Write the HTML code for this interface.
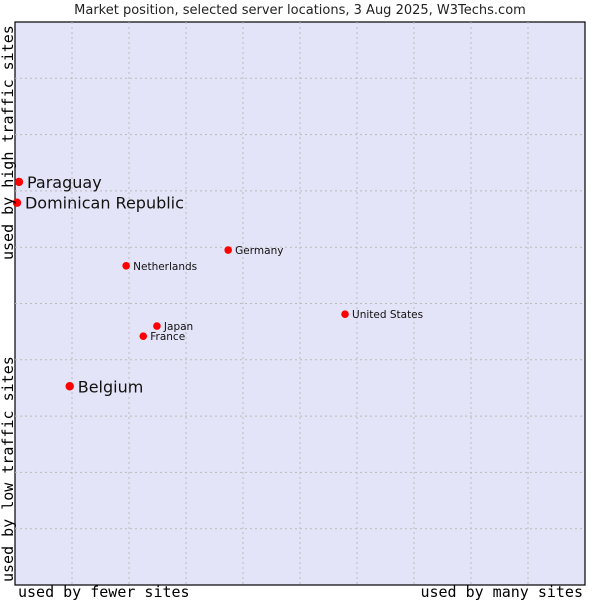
<!DOCTYPE html>
<html><head><meta charset="utf-8"><style>
body{margin:0;background:#fff;width:600px;height:600px;overflow:hidden}
</style></head><body>
<svg id="chart" width="600" height="600" xmlns="http://www.w3.org/2000/svg">
<text x="300" y="14" text-anchor="middle" font-family="DejaVu Sans, sans-serif" font-size="13" fill="#222">Market position, selected server locations, 3 Aug 2025, W3Techs.com</text>
<rect x="15" y="22" width="570" height="563" fill="#e4e4f8" stroke="#000" stroke-width="1.2"/>
<g id="grid"></g>
<g id="pts"></g>
<text x="18" y="597" font-family="DejaVu Sans Mono, monospace" font-size="15" fill="#000">used by fewer sites</text>
<text x="583" y="597" text-anchor="end" font-family="DejaVu Sans Mono, monospace" font-size="15" fill="#000">used by many sites</text>
<text transform="translate(13,260) rotate(-90)" font-family="DejaVu Sans Mono, monospace" font-size="15" fill="#000">used by high traffic sites</text>
<text transform="translate(13,582) rotate(-90)" font-family="DejaVu Sans Mono, monospace" font-size="15" fill="#000">used by low traffic sites</text>
</svg>
<script>
const names=["Paraguay","Dominican Republic","Germany","Netherlands","United States","Japan","France","Belgium"];
const xs=[0.7,0.35,37.4,19.5,57.9,24.9,22.5,9.6];
const ys=[71.6,67.9,59.5,56.7,48.1,46.0,44.2,35.3];
const big=[1,1,0,0,0,0,0,1];
const X0=15,W=570,Y0=22,H=563;
const sx=v=>X0+v/100*W, sy=v=>Y0+H-v/100*H;
const NS="http://www.w3.org/2000/svg";
const grid=document.getElementById('grid');
for(let i=1;i<10;i++){
  const v=document.createElementNS(NS,'line');
  
  
  v.setAttribute('x1',sx(i*10));v.setAttribute('x2',sx(i*10));v.setAttribute('y1',Y0);v.setAttribute('y2',Y0+H);
  v.setAttribute('stroke','#bbb');v.setAttribute('stroke-dasharray','2,3');grid.appendChild(v);
  const h=document.createElementNS(NS,'line');
  
  
  h.setAttribute('y1',sy(i*10));h.setAttribute('y2',sy(i*10));h.setAttribute('x1',X0);h.setAttribute('x2',X0+W);
  h.setAttribute('stroke','#bbb');h.setAttribute('stroke-dasharray','2,3');grid.appendChild(h);
}
const pts=document.getElementById('pts');
names.forEach((n,i)=>{
  const x=sx(xs[i]),y=sy(ys[i]);
  const c=document.createElementNS(NS,'circle');
  
  
  c.setAttribute('cx',x);c.setAttribute('cy',y);c.setAttribute('r',big[i]?4.2:3.8);c.setAttribute('fill','#f00');
  pts.appendChild(c);
  const t=document.createElementNS(NS,'text');
  
  
  t.setAttribute('x',x+(big[i]?8:7));t.setAttribute('y',y+(big[i]?6:4));
  t.setAttribute('font-family','DejaVu Sans, sans-serif');t.setAttribute('font-size',big[i]?16:10.5);
  t.setAttribute('fill','#111');t.textContent=n;pts.appendChild(t);
});
</script>
</body></html>
